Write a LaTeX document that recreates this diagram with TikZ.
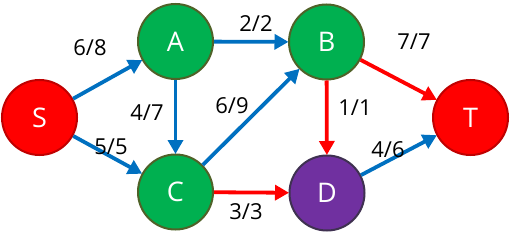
\documentclass[tikz,border=0pt]{standalone}
\usepackage{fontspec}
\setmainfont{Open Sans}
\usetikzlibrary{arrows.meta}
\definecolor{gfill}{HTML}{00B050}
\definecolor{gline}{HTML}{4F6228}
\definecolor{rfill}{HTML}{FF0000}
\definecolor{rline}{HTML}{C00000}
\definecolor{pfill}{HTML}{7030A0}
\definecolor{pline}{HTML}{3F3151}
\definecolor{eblue}{HTML}{0070C0}
\definecolor{ered}{HTML}{FF0000}
\tikzset{
  vtx/.style={circle, minimum size=75pt, inner sep=0pt, line width=2pt, text=white, font=\fontsize{27}{30}\selectfont},
  gv/.style={vtx, fill=gfill, draw=gline},
  rv/.style={vtx, fill=rfill, draw=rline},
  pv/.style={vtx, fill=pfill, draw=pline},
  edg/.style={line width=3.8pt, -{Triangle[length=14pt,width=15pt]}, shorten >=-0.5pt},
  be/.style={edg, draw=eblue},
  re/.style={edg, draw=ered},
  lab/.style={font=\fontsize{22}{24}\selectfont, text=black, inner sep=0pt}
}
\begin{document}
\begin{tikzpicture}[x=1pt,y=-1pt]
\useasboundingbox (0,0) rectangle (510,240);
\node[rv] (S) at (39.5,117.5) {S};
\node[gv] (A) at (175.5,41.5) {A};
\node[gv] (C) at (175.5,192) {C};
\node[gv] (B) at (326.5,42) {B};
\node[pv] (D) at (327,193) {D};
\node[rv] (T) at (470.5,117.5) {T};
\draw[be] (S) -- (A);
\draw[be] (S) -- (C);
\draw[be] (A) -- (C);
\draw[be] (A) -- (B);
\draw[be] (C) -- (B);
\draw[re] (B) -- (T);
\draw[re] (B) -- (D);
\draw[re] (C) -- (D);
\draw[be] (D) -- (T);
\node[lab] (l1) at (90,48) {6/8};
\node[lab] (l2) at (111,147) {5/5};
\node[lab] (l3) at (147,113) {4/7};
\node[lab] (l4) at (232,106) {6/9};
\node[lab] (l5) at (256,24) {2/2};
\node[lab] (l6) at (414,42) {7/7};
\node[lab] (l7) at (355,108) {1/1};
\node[lab] (l8) at (388,150) {4/6};
\node[lab] (l9) at (246,212) {3/3};
\end{tikzpicture}
\end{document}
